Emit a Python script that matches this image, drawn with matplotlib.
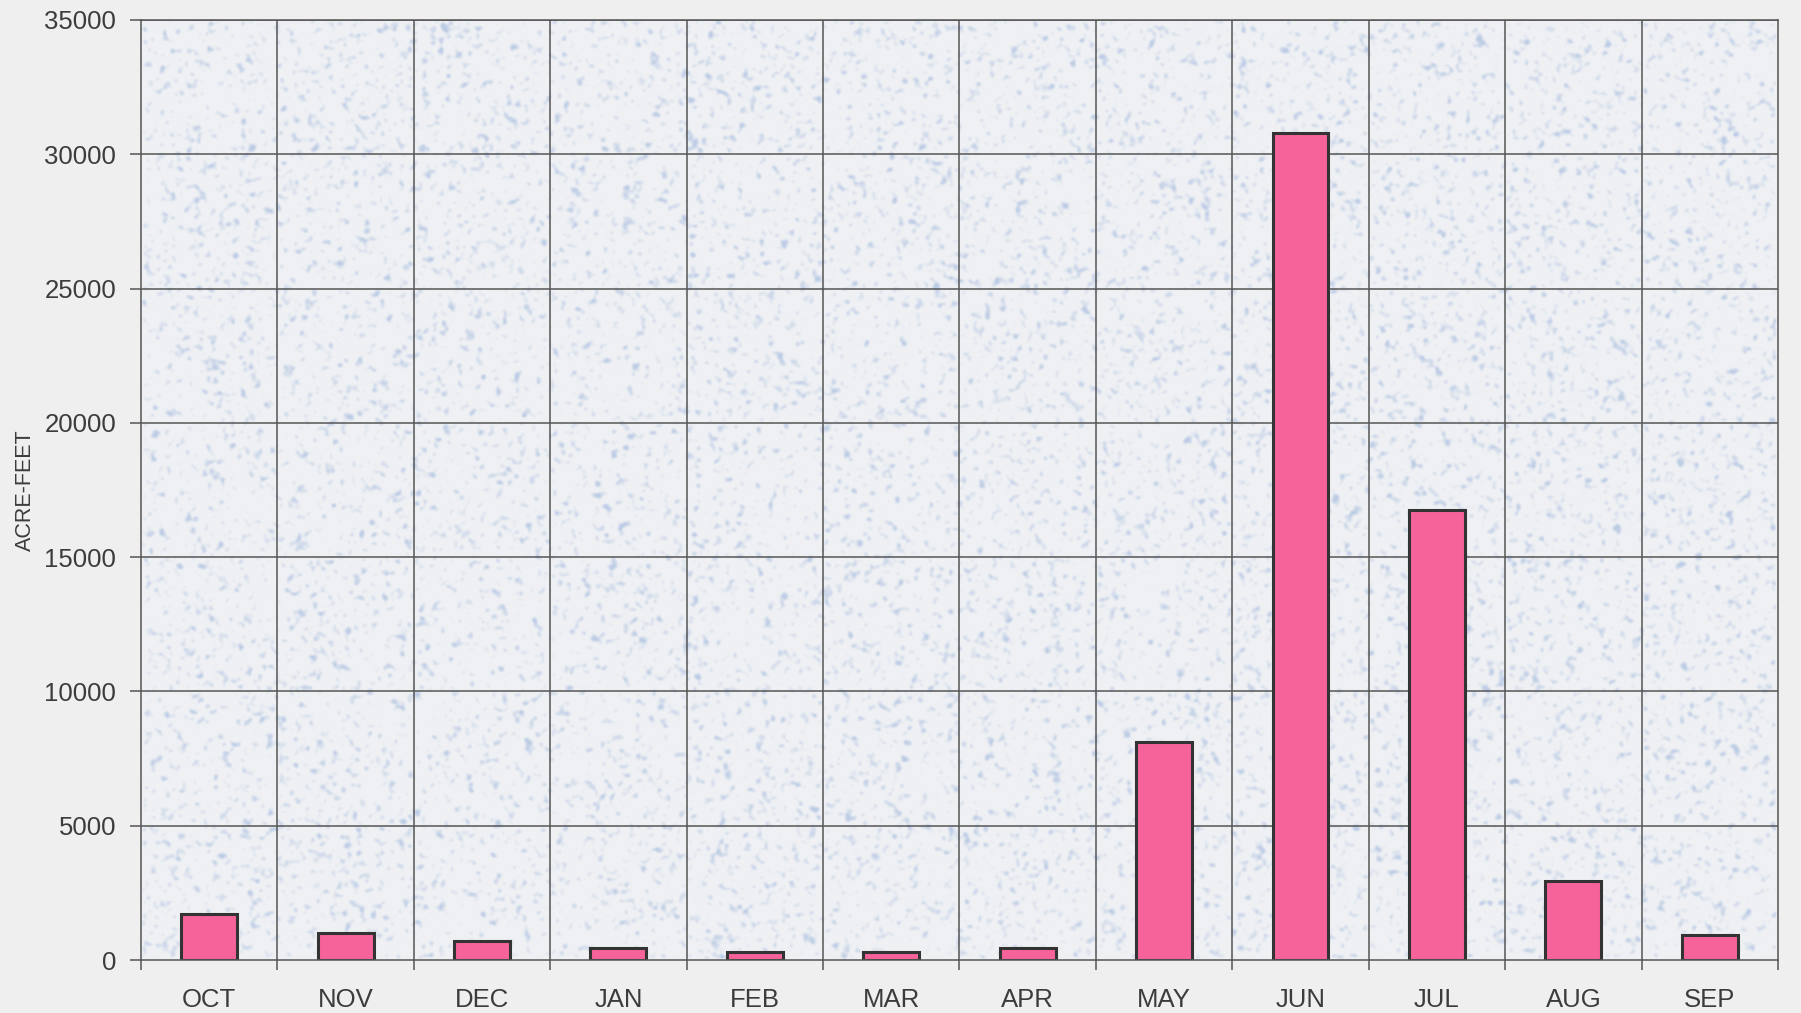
import numpy as np
import matplotlib.pyplot as plt

months = ['OCT', 'NOV', 'DEC', 'JAN', 'FEB', 'MAR', 'APR', 'MAY', 'JUN', 'JUL', 'AUG', 'SEP']
acre_feet = [1700, 1000, 720, 430, 300, 300, 430, 8100, 30800, 16750, 2950, 950]
yticks = [0, 5000, 10000, 15000, 20000, 25000, 30000, 35000]

plt.rcParams['font.family'] = ['Liberation Sans', 'DejaVu Sans']

fig = plt.figure(figsize=(18.01, 10.13), dpi=100, facecolor='#efefef')
ax = fig.add_axes([0.0783, 0.0523, 0.9089, 0.928])

# speckled paper-like fill behind the plot area
rng = np.random.default_rng(7)
h, w = 640, 1100
noise = rng.random((h, w))
k = np.array([1, 3, 4, 3, 1], float)
k /= k.sum()
noise = np.apply_along_axis(lambda r: np.convolve(r, k, mode='same'), 1, noise)
noise = np.apply_along_axis(lambda c: np.convolve(c, k, mode='same'), 0, noise)
noise = (noise - noise.mean()) / noise.std()
speck = np.clip((noise - 0.7) / 2.0, 0, 1)
base = np.array([0.937, 0.944, 0.955])
blue = np.array([0.74, 0.80, 0.90])
tex = base[None, None, :] * (1 - speck[..., None]) + blue[None, None, :] * speck[..., None]
ax.imshow(tex, extent=[-0.5, len(months) - 0.5, 0, 35000], aspect='auto',
          interpolation='bicubic', zorder=0)

x = np.arange(len(months))
ax.bar(x, acre_feet, width=0.41, color='#f6639b', edgecolor='#333333',
       linewidth=2.2, zorder=3)

ax.set_xlim(-0.5, len(months) - 0.5)
ax.set_ylim(0, 35000)

# grid lines: horizontal at each y tick, vertical between months
for y in yticks[1:]:
    ax.axhline(y, color='#555555', linewidth=1.1, zorder=2)
for b in np.arange(0.5, len(months) - 0.5, 1):
    ax.axvline(b, color='#555555', linewidth=1.1, zorder=2)

for side in ['top', 'right', 'left', 'bottom']:
    ax.spines[side].set_color('#555555')
    ax.spines[side].set_linewidth(1.1)
    ax.spines[side].set_zorder(4)

ax.set_yticks(yticks)
ax.set_yticklabels([str(v) for v in yticks])
ax.set_xticks(x)
ax.set_xticklabels(months)
ax.set_xticks(np.arange(-0.5, len(months), 1), minor=True)
ax.tick_params(axis='x', which='major', length=0, pad=20, labelsize=18.5, labelcolor='#3c3c3c')
ax.tick_params(axis='x', which='minor', length=7, width=1.1, color='#555555', direction='out')
ax.tick_params(axis='y', length=8, width=1.1, color='#555555', pad=10,
               labelsize=18.5, labelcolor='#3c3c3c')

ax.set_ylabel('ACRE-FEET', fontsize=15.5, color='#3c3c3c', labelpad=6)

fig.savefig('out.png', dpi=100, facecolor=fig.get_facecolor())
